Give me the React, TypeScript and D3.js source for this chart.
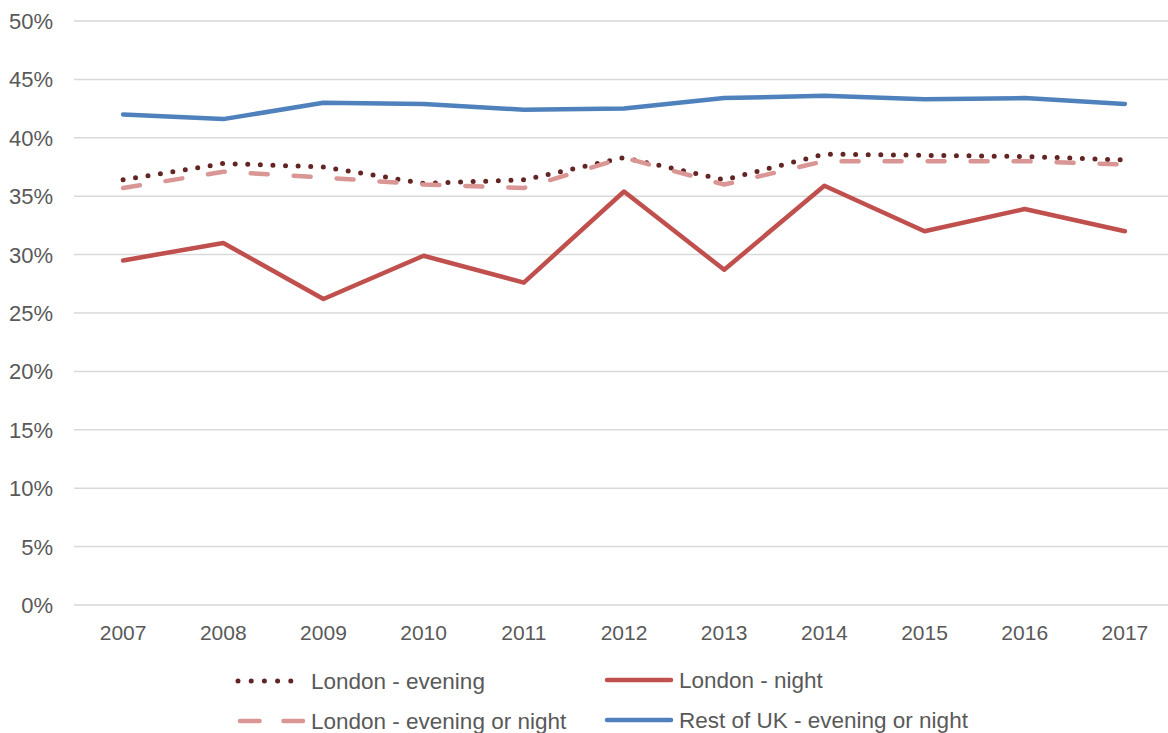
import React from 'react';
import * as d3 from 'd3';

const years = ['2007', '2008', '2009', '2010', '2011', '2012', '2013', '2014', '2015', '2016', '2017'];
const londonEvening = [36.4, 37.8, 37.5, 36.1, 36.4, 38.3, 36.4, 38.6, 38.5, 38.4, 38.1];
const londonNight = [29.5, 31.0, 26.2, 29.9, 27.6, 35.4, 28.7, 35.9, 32.0, 33.9, 32.0];
const londonEveningOrNight = [35.7, 37.1, 36.6, 36.0, 35.7, 38.3, 36.0, 38.0, 38.0, 38.0, 37.7];
const restOfUK = [42.0, 41.6, 43.0, 42.9, 42.4, 42.5, 43.4, 43.6, 43.3, 43.4, 42.9];
const yTicks = [0, 5, 10, 15, 20, 25, 30, 35, 40, 45, 50];

const series = [
  { name: 'London - evening', values: londonEvening, color: '#632523', style: 'dot' },
  { name: 'London - night', values: londonNight, color: '#C0504D', style: 'solid' },
  { name: 'London - evening or night', values: londonEveningOrNight, color: '#D99694', style: 'dash' },
  { name: 'Rest of UK - evening or night', values: restOfUK, color: '#4F81BD', style: 'solid' },
];

const W = 1168;
const H = 733;
const font = '"Liberation Sans", Arial, sans-serif';

export default function App() {
  const x = d3.scaleBand().domain(years).range([73, 1175]).padding(0);
  const y = d3.scaleLinear().domain([0, 50]).range([605, 21]);
  const cx = (yr: string) => (x(yr) as number) + x.bandwidth() / 2;

  const line = d3.line<number>()
    .x((d, i) => cx(years[i]))
    .y(d => y(d));

  // legend layout: two columns, two rows
  const legendPos = [
    { sx: 238, ex: 292, tx: 311, ty: 681 },
    { sx: 607, ex: 671, tx: 679, ty: 680 },
    { sx: 240, ex: 303, tx: 311, ty: 721 },
    { sx: 607, ex: 671, tx: 679, ty: 720 },
  ];

  const dashFor = (style: string, legend: boolean) => {
    if (style === 'dot') return legend ? '0 13.2' : '0 12.6';
    if (style === 'dash') return legend ? '19.5 24' : '17 26';
    return undefined;
  };

  return (
    <svg width={W} height={H} style={{ position: 'absolute', left: 0, top: 0, background: '#fff' }}>
      <g className="grid">
        {yTicks.map(t => (
          <line key={t} x1={74} x2={W} y1={y(t)} y2={y(t)} stroke="#d9d9d9" strokeWidth={1.5} />
        ))}
      </g>
      <g className="y-axis" fontFamily={font} fontSize={22} fill="#595959" textAnchor="end">
        {yTicks.map(t => (
          <text key={t} x={53} y={y(t)} dy="0.36em">{t}%</text>
        ))}
      </g>
      <g className="x-axis" fontFamily={font} fontSize={21} fill="#595959" textAnchor="middle">
        {years.map(yr => (
          <text key={yr} x={cx(yr)} y={640}>{yr}</text>
        ))}
      </g>
      <g className="lines">
        {series.map(s => (
          <path key={s.name} d={line(s.values) || ''} fill="none" stroke={s.color}
            strokeWidth={s.style === 'dot' ? 5 : 4.5}
            strokeDasharray={dashFor(s.style, false)}
            strokeLinecap="round" strokeLinejoin="round" />
        ))}
      </g>
      <g className="legend" fontFamily={font} fontSize={22.5} fill="#595959">
        {series.map((s, i) => {
          const p = legendPos[i];
          return (
            <g key={s.name}>
              <line x1={p.sx} x2={p.ex} y1={p.ty} y2={p.ty} stroke={s.color}
                strokeWidth={s.style === 'dot' ? 5 : 4.5}
                strokeDasharray={dashFor(s.style, true)}
                strokeLinecap="round" />
              <text x={p.tx} y={p.ty} dy="0.36em">{s.name}</text>
            </g>
          );
        })}
      </g>
    </svg>
  );
}
